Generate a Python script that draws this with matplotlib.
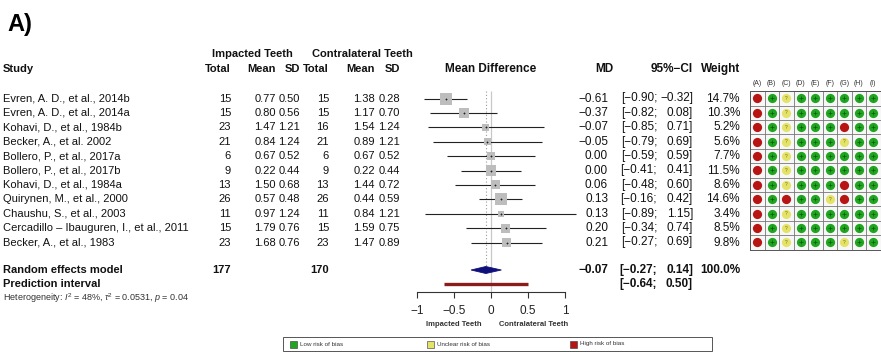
import matplotlib
matplotlib.use("Agg")
import matplotlib.pyplot as plt
from matplotlib.patches import Rectangle, Polygon

plt.rcParams['font.family'] = ['Liberation Sans', 'DejaVu Sans']
plt.rcParams['mathtext.fontset'] = 'custom'
plt.rcParams['mathtext.rm'] = 'Liberation Sans'
plt.rcParams['mathtext.it'] = 'Liberation Sans:italic'
plt.rcParams['mathtext.bf'] = 'Liberation Sans:bold'

# ---------------- data ----------------
studies = ["Evren, A. D., et al., 2014b", "Evren, A. D., et al., 2014a",
           "Kohavi, D., et al., 1984b", "Becker, A., et al. 2002",
           "Bollero, P., et al., 2017a", "Bollero, P., et al., 2017b",
           "Kohavi, D., et al., 1984a", "Quirynen, M., et al., 2000",
           "Chaushu, S., et al., 2003", "Cercadillo \u2013 Ibauguren, I., et al., 2011",
           "Becker, A., et al., 1983"]
imp_total = [15, 15, 23, 21, 6, 9, 13, 26, 11, 15, 23]
imp_mean = [0.77, 0.80, 1.47, 0.84, 0.67, 0.22, 1.50, 0.57, 0.97, 1.79, 1.68]
imp_sd = [0.50, 0.56, 1.21, 1.24, 0.52, 0.44, 0.68, 0.48, 1.24, 0.76, 0.76]
con_total = [15, 15, 16, 21, 6, 9, 13, 26, 11, 15, 23]
con_mean = [1.38, 1.17, 1.54, 0.89, 0.67, 0.22, 1.44, 0.44, 0.84, 1.59, 1.47]
con_sd = [0.28, 0.70, 1.24, 1.21, 0.52, 0.44, 0.72, 0.59, 1.21, 0.75, 0.89]
md = [-0.61, -0.37, -0.07, -0.05, 0.00, 0.00, 0.06, 0.13, 0.13, 0.20, 0.21]
ci_lo = [-0.90, -0.82, -0.85, -0.79, -0.59, -0.41, -0.48, -0.16, -0.89, -0.34, -0.27]
ci_hi = [-0.32, 0.08, 0.71, 0.69, 0.59, 0.41, 0.60, 0.42, 1.15, 0.74, 0.69]
weight = [14.7, 10.3, 5.2, 5.6, 7.7, 11.5, 8.6, 14.6, 3.4, 8.5, 9.8]

total_imp = 177
total_con = 170
re_md, re_lo, re_hi = -0.07, -0.27, 0.14
pi_lo, pi_hi = -0.64, 0.50
het_i2, het_tau2, het_p = "48%", "0.0531", "0.04"

axis_ticks = [-1, -0.5, 0, 0.5, 1]
axis_ticklabels = ["\u22121", "\u22120.5", "0", "0.5", "1"]

rob_domains = ["(A)", "(B)", "(C)", "(D)", "(E)", "(F)", "(G)", "(H)", "(I)"]
rob = ["RGYGGGGGG", "RGYGGGGGG", "RGYGGGRGG", "RGYGGGYGG", "RGYGGGGGG",
       "RGYGGGGGG", "RGYGGGRGG", "RGRGGYRGG", "RGYGGGGGG", "RGYGGGGGG",
       "RGYGGGYGG"]
legend_labels = ["Low risk of bias", "Unclear risk of bias", "High risk of bias"]

# ---------------- layout ----------------
W, H = 881, 352
ROW0, DY = 98.5, 14.4
X0, SC = 491, 74          # pixel of MD=0 and pixels per unit
Y_RE, Y_PI, Y_HET = 270, 284, 298
Y_AX = 292
Y_H1, Y_H2 = 54, 69
FS = 8
FS_R = 8.5

fig = plt.figure(figsize=(W / 100, H / 100), dpi=100)
axp = fig.add_axes([0, 0, 1, 1])
axp.set_xlim(0, W); axp.set_ylim(H, 0); axp.axis('off')

def t(x, y, s, ha='left', size=FS, weight='normal', color='#111111', **kw):
    axp.text(x, y, s, ha=ha, va='center', fontsize=size, fontweight=weight,
             color=color, **kw)

rows_y = [ROW0 + DY * i for i in range(len(studies))]

# title
t(7, 25, "A)", size=17, weight='bold', color='black')

# headers
t(252, Y_H1, "Impacted Teeth", ha='center', weight='bold')
t(362, Y_H1, "Contralateral Teeth", ha='center', weight='bold')
t(3, Y_H2, "Study", weight='bold')
col_r = [231, 276, 300, 329, 375, 400]
for x, s in zip(col_r, ["Total", "Mean", "SD", "Total", "Mean", "SD"]):
    t(x, Y_H2, s, ha='right', weight='bold')
t(X0, Y_H2, "Mean Difference", ha='center', weight='bold', size=FS_R)
X_MD, X_CIL, X_CIR, X_W = 608, 657, 693, 740
t(613, Y_H2, "MD", ha='right', weight='bold', size=FS_R)
t(X_CIR, Y_H2, "95%\u2212CI", ha='right', weight='bold', size=FS_R)
t(X_W, Y_H2, "Weight", ha='right', weight='bold', size=FS_R)

def fmt(v):
    return ("%.2f" % v).replace("-", "\u2212")

for i, y in enumerate(rows_y):
    t(3, y, studies[i])
    t(col_r[0], y, str(imp_total[i]), ha='right')
    t(col_r[1], y, "%.2f" % imp_mean[i], ha='right')
    t(col_r[2], y, "%.2f" % imp_sd[i], ha='right')
    t(col_r[3], y, str(con_total[i]), ha='right')
    t(col_r[4], y, "%.2f" % con_mean[i], ha='right')
    t(col_r[5], y, "%.2f" % con_sd[i], ha='right')
    t(X_MD, y, fmt(md[i]), ha='right', size=FS_R)
    t(X_CIL, y, "[" + fmt(ci_lo[i]) + ";", ha='right', size=FS_R)
    t(X_CIR, y, fmt(ci_hi[i]) + "]", ha='right', size=FS_R)
    t(X_W, y, "%.1f%%" % weight[i], ha='right', size=FS_R)

# summary rows
t(3, Y_RE, "Random effects model", weight='bold')
t(3, Y_PI, "Prediction interval", weight='bold')
t(col_r[0], Y_RE, str(total_imp), ha='right', weight='bold')
t(col_r[3], Y_RE, str(total_con), ha='right', weight='bold')
t(X_MD, Y_RE, fmt(re_md), ha='right', weight='bold', size=FS_R)
t(X_CIL, Y_RE, "[" + fmt(re_lo) + ";", ha='right', weight='bold', size=FS_R)
t(X_CIR, Y_RE, fmt(re_hi) + "]", ha='right', weight='bold', size=FS_R)
t(X_W, Y_RE, "100.0%", ha='right', weight='bold', size=FS_R)
t(X_CIL, Y_PI, "[" + fmt(pi_lo) + ";", ha='right', weight='bold', size=FS_R)
t(X_CIR, Y_PI, fmt(pi_hi) + "]", ha='right', weight='bold', size=FS_R)
t(3, Y_HET, "Heterogeneity: $I^2$ = %s, $\\tau^2$ = %s, $p$ = %s"
  % (het_i2, het_tau2, het_p), size=6.5, color='#333333')

# ---------------- forest ----------------
axf = fig.add_axes([0, 0, 1, 1])
axf.set_xlim(-X0 / SC, (W - X0) / SC); axf.set_ylim(H, 0)
axf.axis('off'); axf.patch.set_alpha(0)

axf.vlines(0, 91, Y_AX, color='#c8c8c8', lw=0.9, zorder=1)
axf.vlines(re_md, 91, Y_RE - 4, color='#9a9a9a', lw=0.8, linestyles=(0, (1, 2)), zorder=1)
axf.hlines(rows_y, ci_lo, ci_hi, color='#222222', lw=0.8, zorder=2)
sides = [12 * (w / 14.7) ** 0.5 * 0.72 for w in weight]
axf.scatter(md, rows_y, marker='s', s=[s ** 2 for s in sides], c='#bdbdbd',
            linewidths=0, zorder=3)
axf.scatter(md, rows_y, marker='+', s=4, c='#222222', linewidths=0.6, zorder=4)
axf.add_patch(Polygon([(re_lo, Y_RE), (re_md, Y_RE - 3.5), (re_hi, Y_RE),
                       (re_md, Y_RE + 3.5)], closed=True, fc='#10107a',
                      ec='#10107a', lw=0.6, zorder=3))
axf.hlines(Y_PI, pi_lo, pi_hi, color='#8b1c1c', lw=2.4, zorder=3)

axx = fig.add_axes([(X0 - SC) / W, 1 - Y_AX / H, 2 * SC / W, 1e-4])
axx.set_xlim(-1, 1)
for sp in ['left', 'right', 'top']:
    axx.spines[sp].set_visible(False)
axx.spines['bottom'].set_color('#333333'); axx.spines['bottom'].set_linewidth(0.8)
axx.set_yticks([])
axx.set_xticks(axis_ticks)
axx.set_xticklabels(axis_ticklabels, fontsize=8.5, color='#222222')
axx.tick_params(axis='x', direction='out', length=4.5, width=0.8, color='#333333', pad=5)
axx.patch.set_alpha(0)
t(X0 - 0.5 * SC, 325, "Impacted Teeth", ha='center', size=5.5, weight='bold', color='#333333')
t(X0 + 0.58 * SC, 325, "Contralateral Teeth", ha='center', size=5.5, weight='bold', color='#333333')

# ---------------- risk of bias grid ----------------
GX0, CW = 750, 14.5
ncol = len(rob_domains)
top = ROW0 - DY / 2
axr = fig.add_axes([GX0 / W, 1 - (top + DY * len(rob)) / H, CW * ncol / W, DY * len(rob) / H])
axr.set_xlim(-0.5, ncol - 0.5); axr.set_ylim(len(rob) - 0.5, -0.5)
axr.set_facecolor('#f7f7f7')
for k in range(ncol + 1):
    axr.axvline(k - 0.5, color='#777777', lw=0.6)
for k in range(len(rob) + 1):
    axr.axhline(k - 0.5, color='#777777', lw=0.6)
for sp in axr.spines.values():
    sp.set_color('#555555'); sp.set_linewidth(0.7)
axr.xaxis.tick_top()
axr.set_xticks(range(ncol)); axr.set_xticklabels(rob_domains, fontsize=5, color='#333333')
axr.tick_params(length=0, pad=3)
axr.set_yticks([])
colors = {'G': '#1fa51f', 'Y': '#e3e36a', 'R': '#b81414'}
for code in "GYR":
    xs = [j for r in rob for j, c in enumerate(r) if c == code]
    ys = [i for i, r in enumerate(rob) for c in r if c == code]
    axr.scatter(xs, ys, s=44, c=colors[code], linewidths=0, zorder=3)
    if code == 'G':
        axr.scatter(xs, ys, marker='+', s=6, c='#0b5a0b', linewidths=0.5, zorder=4)
    if code == 'Y':
        for x, y in zip(xs, ys):
            axr.text(x, y, "?", ha='center', va='center', fontsize=3.5,
                     color='#7a6a00', zorder=4)

# ---------------- legend ----------------
axp.add_patch(Rectangle((283, 337), 429, 14, fill=False, ec='#555555', lw=0.7))
for x, c, lab in zip([290, 427, 570], ['#1fa51f', '#e3e36a', '#b81414'], legend_labels):
    axp.add_patch(Rectangle((x, 340.5), 7, 7, fc=c, ec='#333333', lw=0.4))
    t(x + 10, 344, lab, size=4.5, color='#333333')

fig.savefig("out.png", dpi=100)
